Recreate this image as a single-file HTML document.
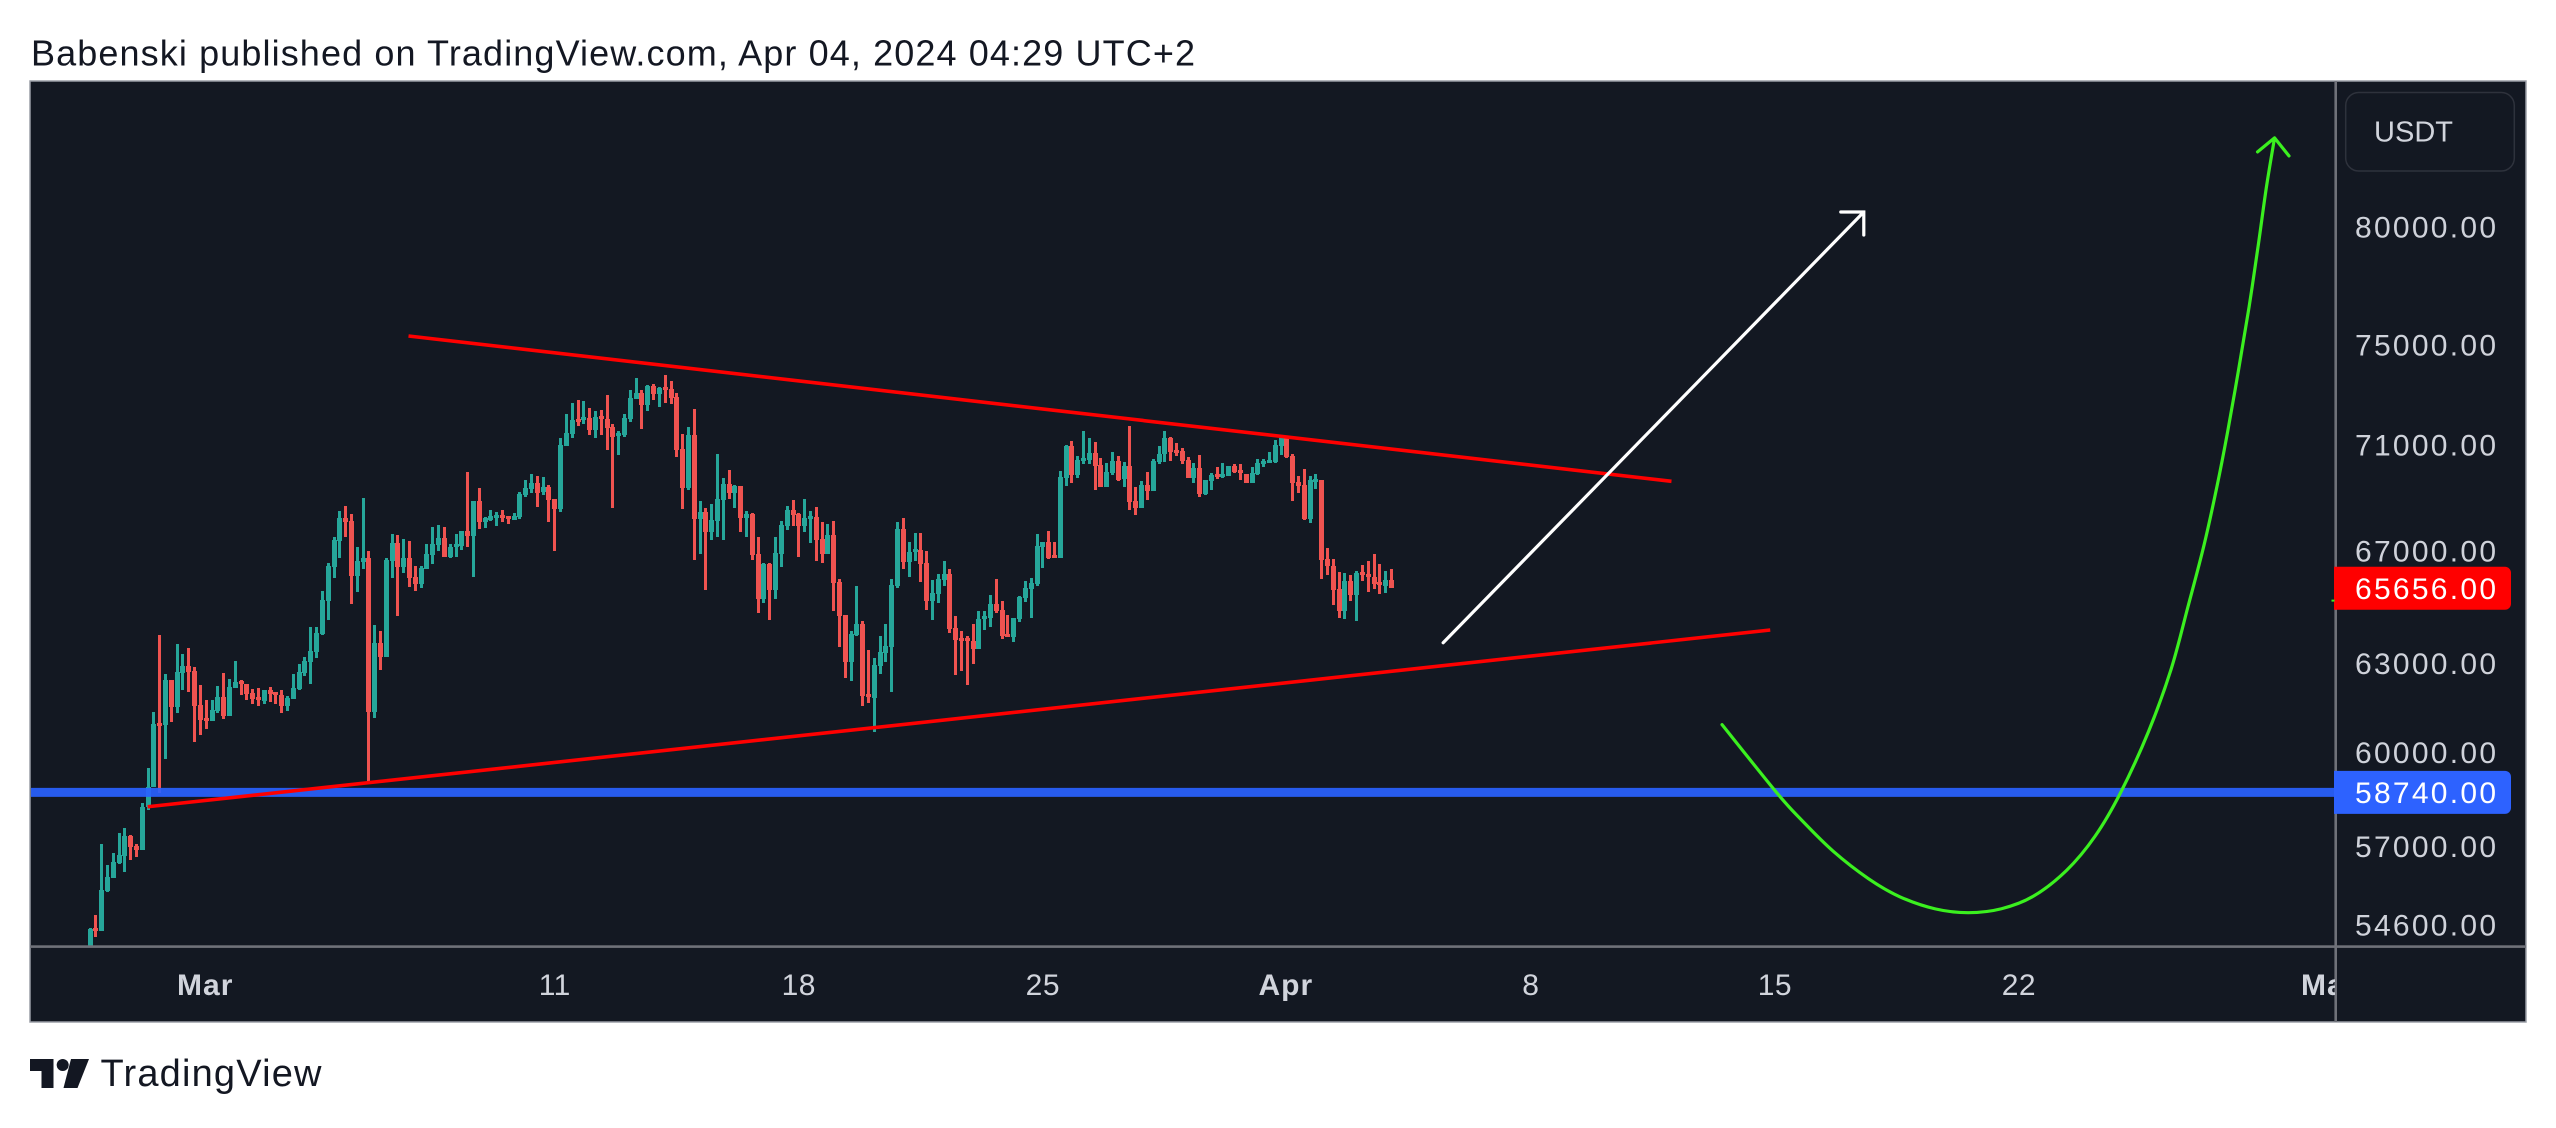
<!DOCTYPE html>
<html lang="en">
<head>
<meta charset="utf-8">
<title>Babenski published on TradingView.com</title>
<style>
html,body{margin:0;padding:0;background:#fff;width:2556px;height:1128px;overflow:hidden}
svg{display:block;font-family:"Liberation Sans",sans-serif}
</style>
</head>
<body>
<svg id="chart" xmlns="http://www.w3.org/2000/svg" width="2556" height="1128" viewBox="0 0 2556 1128">
  <defs>
    <clipPath id="plot-clip"><rect x="31" y="82" width="2304" height="864"/></clipPath>
    <clipPath id="time-clip"><rect x="31" y="948" width="2304" height="74"/></clipPath>
  </defs>
  <rect x="0" y="0" width="2556" height="1128" fill="#ffffff"/>
  <text x="31" y="65.5" font-size="36" fill="#131722" textLength="1164" lengthAdjust="spacing">Babenski published on TradingView.com, Apr 04, 2024 04:29 UTC+2</text>
  <rect x="30" y="81" width="2496" height="941" fill="#131822" stroke="#9a9da6" stroke-width="1.5"/>
  <g id="candles" clip-path="url(#plot-clip)"></g>
  <g id="drawings" clip-path="url(#plot-clip)"></g>
  <rect x="30" y="945.3" width="2496" height="2.6" fill="#6f7179"/>
  <rect x="2334.4" y="81" width="2.6" height="941" fill="#6f7179"/>
  <g id="time-axis" clip-path="url(#time-clip)"></g>
  <g id="price-axis"></g>
  <rect x="2345.7" y="92.5" width="168.6" height="78.5" rx="13" fill="#131822" stroke="#2e323c" stroke-width="1.5"/>
  <text x="2374" y="141.5" font-size="29" fill="#d1d4dc" textLength="79" lengthAdjust="spacing">USDT</text>
  <g fill="#131722">
    <polygon points="30,1059 53.5,1059 53.5,1088 41.5,1088 41.5,1071 30,1071"/>
    <circle cx="62.7" cy="1065" r="6"/>
    <polygon points="71,1059 89,1059 77.5,1088 63.5,1088"/>
    <text x="100.5" y="1086" font-size="38" textLength="221" lengthAdjust="spacing">TradingView</text>
  </g>
</svg>
<script>
// ---- Candle data: 4h bars, USDT ----
const opens = [
53700,54510,54430,55630,56030,56490,56700,57330,57010,56880,
58240,58880,60990,60920,62440,61520,62680,62920,62750,61590,
61150,61050,61390,61860,61220,62160,62400,62300,61990,61860,
61720,62100,62030,61920,61550,61790,62130,62680,63050,63400,
64030,65190,66420,67370,68230,68120,66100,66600,66750,61350,
63710,63230,66640,67300,66420,66750,66060,65810,66350,66860,
67220,67480,66780,67150,67190,67740,67560,68860,68080,68150,
68230,68340,68300,68150,68260,69090,69320,69550,69200,69390,
68930,68560,70960,71440,72030,71990,72070,71590,72140,72030,
71710,71360,71400,72030,72810,73050,72580,73340,73010,73300,
73220,72890,70850,69360,71400,68190,68450,67710,68120,68900,
69510,69160,69430,68230,68380,66890,65260,66530,65590,66890,
67930,68520,68380,67930,68190,68260,67450,66890,67600,65880,
64700,63050,63990,64380,61960,61820,62920,63360,63570,65730,
67820,66600,66960,67040,66570,65190,65440,65950,66170,64240,
63890,63890,63780,63500,64560,64590,65090,64870,64030,63920,
64560,65300,65630,65810,67150,67330,66860,66750,69740,70960,
69850,70390,70430,70690,70230,69390,69930,70390,69700,70200,
68860,68600,69470,69240,70350,70650,71280,70810,70770,70430,
69740,70120,69130,69620,69890,69780,69810,70200,70040,69890,
69550,69890,70310,70310,70350,70960,71280,70580,69580,69470,
68190,69620,69660,66710,66460,65630,64840,65910,65410,66240,
66170,66060,65880,65730,65950];
const highs = [
54500,54900,57070,56420,56790,57420,57580,57360,57070,58370,
59500,61350,63990,62640,62440,63680,63330,63540,62880,62270,
61750,61750,62230,62680,62470,63090,62440,62300,62130,62160,
62100,62200,62030,62100,61890,62640,62990,63230,64280,64280,
65550,66570,67520,68490,68670,68380,67150,68970,67000,64350,
64130,66750,67630,67590,67450,67370,66460,66460,67260,67890,
67970,67890,67260,67630,67740,69970,68860,69360,68260,68520,
68450,68520,68300,68410,69200,69660,69890,69810,69780,69470,
68930,71280,72220,72650,72770,72730,72460,72340,72380,72970,
71830,71550,72220,73180,73660,73180,73380,73420,73300,73780,
73540,73050,71440,71710,72420,68860,68600,68750,70650,69740,
70040,69470,69430,68490,68410,67520,66570,66570,67520,68120,
68670,68900,68410,68930,68490,68640,68080,68000,68120,65990,
64700,64130,65730,64490,63470,63190,63960,64380,65990,68080,
68230,67330,67670,67670,67000,65950,66170,66640,66350,64660,
64130,63960,64380,64840,64840,65410,65990,65190,64700,64590,
65370,65910,66020,67630,67330,67740,67330,70000,71000,71160,
70580,71550,71280,71120,70500,70310,70730,70580,70350,71750,
69390,69620,69970,70460,70960,71550,71320,71080,70890,70540,
70310,70620,69660,69930,70160,70310,70200,70270,70270,69890,
70160,70460,70460,70730,71200,71360,71320,70650,69810,70080,
69810,69890,69660,67110,66710,66240,66200,66130,66280,66490,
66640,66890,66530,66280,66350];
const lows = [
53600,54250,54430,55580,56030,56450,56210,56580,56670,56880,
58150,58880,58690,59790,61020,61320,62100,62030,60350,60590,
60790,61050,61320,61120,61220,62160,61920,61750,61620,61550,
61620,61690,61620,61320,61390,61790,62100,62570,62300,63190,
63990,64520,66020,66750,67520,65090,65520,66350,59050,61150,
62780,63230,66020,64670,66200,65700,65550,65660,66350,66530,
67000,66780,66750,66780,67040,67150,66060,67820,67860,68120,
67930,68080,68000,68150,68190,69010,69160,68640,69090,68080,
67000,68450,70960,71280,71750,71830,71400,71280,71400,70810,
68600,70620,71320,71910,72810,71630,72340,72770,72500,72650,
72620,70540,68560,69280,66680,66890,65590,67410,67520,67410,
68930,68600,67710,67520,66680,64770,65120,64520,65260,66420,
67780,67930,66780,67710,67300,66640,66570,66890,64840,63570,
62510,62400,63960,61550,61650,60690,62640,63050,62030,65660,
66350,66060,66640,65880,64870,64520,65120,65730,64060,62610,
62750,62270,62990,63500,64170,64270,64770,63850,63920,63750,
64450,65160,64590,65730,66390,66710,66750,66750,69430,69550,
69740,70270,70270,69280,69390,69390,69850,69620,69390,68520,
68340,68600,68900,69240,70270,70350,70390,70580,70270,69740,
69550,69010,69090,69280,69700,69740,69810,69930,69660,69550,
69550,69850,70160,70310,70310,70620,70500,68860,69160,68150,
68040,69320,65990,66130,65050,64590,64560,65190,64490,65910,
65520,65630,65440,65480,65656];
const closes = [
54480,54430,55660,56060,56520,56730,57330,56980,56880,58240,
58880,60950,60890,62440,61520,62710,62920,62710,61550,61090,
61050,61420,61860,61220,62200,62370,62300,61960,61790,61750,
62100,61960,61920,61550,61820,62160,62710,63090,63430,64060,
65230,66460,67410,68230,68080,66100,66640,66750,61350,63710,
63230,66680,67300,66420,66750,66020,65810,66390,66890,67260,
67480,66780,67150,67260,67740,67560,68860,68080,68230,68300,
68340,68230,68190,68300,69130,69360,69550,69160,69390,68900,
68560,71000,71480,71990,71910,72100,71590,72100,72030,71670,
71320,71480,72070,72850,73050,72580,73340,73010,73260,73180,
72850,70810,69360,71400,68190,68450,67710,68150,68930,69510,
69160,69430,68230,68380,66860,65260,66530,65590,66930,67970,
68520,68340,67930,68230,68300,67410,66890,67600,65840,64660,
63050,64030,64380,61890,61860,62950,63400,63610,65770,67820,
66600,66960,67070,66530,65190,65480,65990,66170,64200,63820,
63780,63780,63500,64560,64660,65090,64840,63960,63920,64590,
65340,65660,65840,67190,67330,66750,66750,69780,70960,69850,
70430,70500,70690,70200,69390,69970,70390,69660,70200,68820,
68600,69470,69240,70390,70650,71280,70730,70690,70390,69740,
70120,69130,69660,69850,69780,69890,70200,69970,69970,69550,
69930,70310,70390,70430,71000,71280,70540,69550,69430,68190,
69660,69700,66680,66460,65590,64840,65910,65410,66200,66170,
66060,65810,65810,65950,65656];

// ---- Axis data ----
const priceTicks = [80000,75000,71000,67000,63000,60000,57000,54600];
const timeTickBars = [20,80,122,164,206,248,290,332,386];
const timeTickLabels = ["Mar","11","18","25","Apr","8","15","22","May"];

// ---- Drawing anchors, in bar number and price ----
const lastPrice = 65656;
const supportPrice = 58740;
const upperTrendBars = [54.82,272.2];
const upperTrendPrices = [75366,69605];
const lowerTrendBars = [9.93,289.2];
const lowerTrendPrices = [58247,64164];
const whiteArrowBars = [232.9,305.3];
const whiteArrowPrices = [63718,80659];
const curveBars = [280.9,290.3,294.6,300,306.1,311.5,317.6,323.3,329,334.5,340.2,345.1,349.5,354.3,358.2,361.1,363.9,366.1,367.9,369.8,371.6,373.2,374.6,376];
const curvePrices = [60924,58700,57823,56852,56000,55447,55081,54966,55085,55465,56254,57314,58700,60694,62806,64990,67254,69422,71489,73978,76552,79216,81770,83998];

// ---- Axis functions ----
function priceY(p){ return 227 + 1827 * Math.log(80000 / p); }
function barX(i){ return 90 + 5.81 * i; }

const NS = 'http://www.w3.org/2000/svg';
function make(tag, parent, attrs){
  const el = document.createElementNS(NS, tag);
  for (const k in attrs) el.setAttribute(k, attrs[k]);
  parent.appendChild(el);
  return el;
}

// ---- Candles ----
const candleGroup = document.getElementById('candles');
opens.forEach(function(o, i){
  const c = closes[i];
  const color = c >= o ? '#26a69a' : '#ef5350';
  const x = Math.round(barX(i) - 0.5);
  const g = make('g', candleGroup, {});
  
  
  const yH = Math.round(priceY(highs[i])), yL = Math.round(priceY(lows[i]));
  const wick = make('rect', g, {x: x - 1, y: yH, width: 3, height: Math.max(yL - yH, 1), fill: color});
  
  
  const yT = Math.round(priceY(Math.max(o, c))), yB = Math.round(priceY(Math.min(o, c)));
  const body = make('rect', g, {x: x - 2, y: yT, width: 5, height: Math.max(yB - yT, 3), fill: color});
  
  
});

// ---- Drawings ----
const drawGroup = document.getElementById('drawings');

const supportY = priceY(supportPrice) + 1;
const support = make('line', drawGroup, {x1: 30, x2: 2335, y1: supportY, y2: supportY, stroke: '#2962ff', 'stroke-width': 9, 'stroke-opacity': 0.92});



const upperLine = make('line', drawGroup, {x1: barX(upperTrendBars[0]), y1: priceY(upperTrendPrices[0]), x2: barX(upperTrendBars[1]), y2: priceY(upperTrendPrices[1]), stroke: '#ff0000', 'stroke-width': 3.6});



const lowerLine = make('line', drawGroup, {x1: barX(lowerTrendBars[0]), y1: priceY(lowerTrendPrices[0]), x2: barX(lowerTrendBars[1]), y2: priceY(lowerTrendPrices[1]), stroke: '#ff0000', 'stroke-width': 3.6});



const wx = barX(whiteArrowBars[1]), wy = priceY(whiteArrowPrices[1]);
const whiteArrow = make('path', drawGroup, {
  d: 'M' + barX(whiteArrowBars[0]) + ' ' + priceY(whiteArrowPrices[0]) + 'L' + wx + ' ' + wy +
     'M' + (wx - 23) + ' ' + wy + 'L' + wx + ' ' + wy + 'L' + wx + ' ' + (wy + 23),
  fill: 'none', stroke: '#ffffff', 'stroke-width': 3.2, 'stroke-linecap': 'round'
});



// Smooth curve through the forecast anchors (Catmull-Rom to Bezier)
const pts = curveBars.map(function(b, i){ return [barX(b), priceY(curvePrices[i])]; });
let curveD = 'M' + pts[0][0] + ' ' + pts[0][1];
for (let i = 0; i < pts.length - 1; i++){
  const p0 = pts[Math.max(i - 1, 0)], p1 = pts[i], p2 = pts[i + 1], p3 = pts[Math.min(i + 2, pts.length - 1)];
  curveD += 'C' + (p1[0] + (p2[0] - p0[0]) / 6) + ' ' + (p1[1] + (p2[1] - p0[1]) / 6) + ' ' +
            (p2[0] - (p3[0] - p1[0]) / 6) + ' ' + (p2[1] - (p3[1] - p1[1]) / 6) + ' ' + p2[0] + ' ' + p2[1];
}
const tip = pts[pts.length - 1];
curveD += 'M' + (tip[0] - 17) + ' ' + (tip[1] + 14) + 'L' + tip[0] + ' ' + tip[1] + 'L' + (tip[0] + 14.4) + ' ' + (tip[1] + 18);
const curve = make('path', drawGroup, {d: curveD, fill: 'none', stroke: '#3bf01f', 'stroke-width': 3.2, 'stroke-linecap': 'round', 'stroke-linejoin': 'round'});



// ---- Time axis ----
const timeGroup = document.getElementById('time-axis');
timeTickLabels.forEach(function(label, i){
  const isMonth = isNaN(Number(label));
  const t = make('text', timeGroup, {
    x: barX(timeTickBars[i]) - (isMonth ? 1 : 0), y: 995, 'font-size': 30, fill: '#d1d4dc',
    'text-anchor': 'middle', 'font-weight': isMonth ? 'bold' : 'normal', 'letter-spacing': isMonth ? 1 : 0.5
  });
  t.textContent = label;
  
  
});

// ---- Price axis ----
const priceGroup = document.getElementById('price-axis');
priceTicks.forEach(function(p){
  const t = make('text', priceGroup, {x: 2355, y: priceY(p) + 10.5, 'font-size': 30, fill: '#cfd2da', textLength: 141, lengthAdjust: 'spacing'});
  t.textContent = p.toFixed(2);
  
  
});

function priceTag(price, color, name, offset){
  const cy = priceY(price) + offset;
  const bg = make('path', priceGroup, {
    d: 'M2334 ' + (cy - 21.5) + 'H2505a6 6 0 0 1 6 6V' + (cy + 15.5) + 'a6 6 0 0 1 -6 6H2334Z',
    fill: color
  });
  
  
  const t = make('text', priceGroup, {x: 2355, y: cy + 10.5, 'font-size': 30, fill: '#ffffff', textLength: 141, lengthAdjust: 'spacing'});
  t.textContent = price.toFixed(2);
  
  
}
priceTag(lastPrice, '#ff0000', 'last-price', 0.3);
priceTag(supportPrice, '#2d62ff', 'support-price', 1);

const stub = make('rect', priceGroup, {x: 2331.5, y: 599.6, width: 3, height: 2, fill: '#3bf01f'});


</script>
</body>
</html>
